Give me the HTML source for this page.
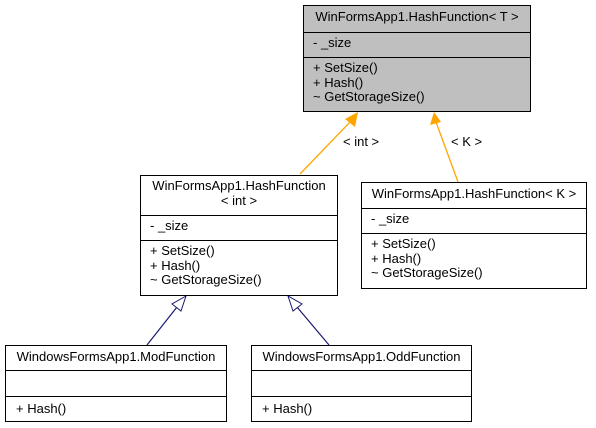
<!DOCTYPE html>
<html><head><style>
body{margin:0;width:596px;height:428px;background:#fff;position:relative;font-family:"Liberation Sans",Arial,sans-serif;font-size:13px;color:#000;overflow:hidden}
.b{position:absolute;border:1px solid #000;box-sizing:border-box}
.s{position:absolute;left:0;right:0;border-top:1px solid #000}
.t{position:absolute;white-space:nowrap;line-height:14.5px}
</style></head><body>
<svg width="596" height="428" style="position:absolute;left:0;top:0">
<line x1="300" y1="174" x2="352" y2="120" stroke="#ffa500" stroke-width="1.3"/>
<polygon points="358,112 345,119 355,127" fill="#ffa500"/>
<line x1="458" y1="182" x2="436" y2="122" stroke="#ffa500" stroke-width="1.3"/>
<polygon points="434,112 430,125 441,122" fill="#ffa500"/>
<line x1="147" y1="345" x2="177" y2="307" stroke="#191970" stroke-width="1.2"/>
<polygon points="186,296 172,304 181,311" fill="#fff" stroke="#191970"/>
<line x1="329" y1="345" x2="297" y2="307" stroke="#191970" stroke-width="1.2"/>
<polygon points="288,296 293,311 302,304" fill="#fff" stroke="#191970"/>
</svg>
<div class="t" style="left:343px;top:135px">&lt; int &gt;</div>
<div class="t" style="left:451px;top:135px">&lt; K &gt;</div>

<div class="b" style="left:303px;top:5px;width:228px;height:107px;background:#bfbfbf">
<div class="t" style="left:0;right:0;top:4px;text-align:center">WinFormsApp1.HashFunction&lt; T &gt;</div>
<div class="s" style="top:26px"></div>
<div class="t" style="left:9px;top:30px">- _size</div>
<div class="s" style="top:51px"></div>
<div class="t" style="left:9px;top:55px">+ SetSize()<br>+ Hash()<br>~ GetStorageSize()</div>
</div>

<div class="b" style="left:140px;top:175px;width:198px;height:121px">
<div class="t" style="left:0;right:0;top:3px;text-align:center">WinFormsApp1.HashFunction<br>&lt; int &gt;</div>
<div class="s" style="top:39px"></div>
<div class="t" style="left:9px;top:43px">- _size</div>
<div class="s" style="top:64px"></div>
<div class="t" style="left:9px;top:68px">+ SetSize()<br>+ Hash()<br>~ GetStorageSize()</div>
</div>

<div class="b" style="left:361px;top:182px;width:226px;height:107px">
<div class="t" style="left:0;right:0;top:4px;text-align:center">WinFormsApp1.HashFunction&lt; K &gt;</div>
<div class="s" style="top:25px"></div>
<div class="t" style="left:9px;top:29px">- _size</div>
<div class="s" style="top:50px"></div>
<div class="t" style="left:9px;top:54px">+ SetSize()<br>+ Hash()<br>~ GetStorageSize()</div>
</div>

<div class="b" style="left:5px;top:345px;width:222px;height:77px">
<div class="t" style="left:0;right:0;top:4px;text-align:center">WindowsFormsApp1.ModFunction</div>
<div class="s" style="top:24px"></div>
<div class="s" style="top:50px"></div>
<div class="t" style="left:10px;top:56px">+ Hash()</div>
</div>

<div class="b" style="left:251px;top:345px;width:221px;height:77px">
<div class="t" style="left:0;right:0;top:4px;text-align:center">WindowsFormsApp1.OddFunction</div>
<div class="s" style="top:24px"></div>
<div class="s" style="top:50px"></div>
<div class="t" style="left:10px;top:56px">+ Hash()</div>
</div>
</body></html>
